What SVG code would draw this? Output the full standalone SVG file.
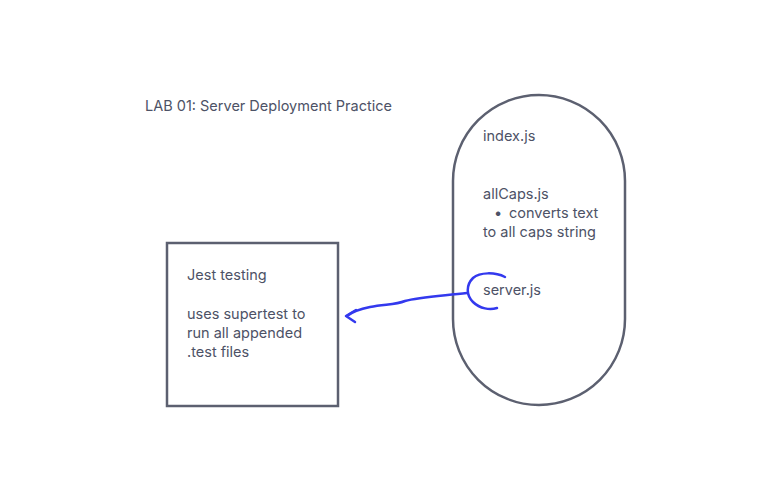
<svg xmlns="http://www.w3.org/2000/svg" width="770" height="500" viewBox="0 0 770 500">
<style>
.t{font-family:Inter,"Noto Sans","Liberation Sans",sans-serif;font-size:14.5px;fill:#4d5266}
.s{fill:none;stroke:#5c6070;stroke-width:2.5}
.b{fill:none;stroke:#3339ee;stroke-width:2.5;stroke-linecap:round;stroke-linejoin:round}
</style>
<rect width="770" height="500" fill="#fff"/>
<text class="t" x="145" y="111">LAB 01: Server Deployment Practice</text>
<g id="jest">
<rect class="s" x="167" y="243" width="171" height="163"/>
<text class="t" x="187" y="280">Jest testing</text>
<text class="t" x="187" y="319">uses supertest to</text>
<text class="t" x="187" y="338">run all appended</text>
<text class="t" x="187" y="357">.test files</text>
</g>
<g id="files">
<rect class="s" x="453" y="95" width="172" height="310" rx="86" ry="86"/>
<text class="t" x="483" y="141">index.js</text>
<text class="t" x="483" y="199">allCaps.js</text>
<text class="t" x="494" y="218">•</text>
<text class="t" x="509" y="218">converts text</text>
<text class="t" x="483" y="237">to all caps string</text>
<text class="t" x="483" y="295">server.js</text>
</g>
<g id="connectors">
<path class="b" d="M505,277 C495,272 480,272 473,278 C466,285 466,295 473,302 C480,309 490,310 497,308"/>
<path class="b" d="M467,293 C440,296 418,297 405,301 C395,305 385,304 370,307 C360,309 352,312 347,316"/>
<path class="b" d="M356,310 L346,316 L355,322"/>
</g>
</svg>
